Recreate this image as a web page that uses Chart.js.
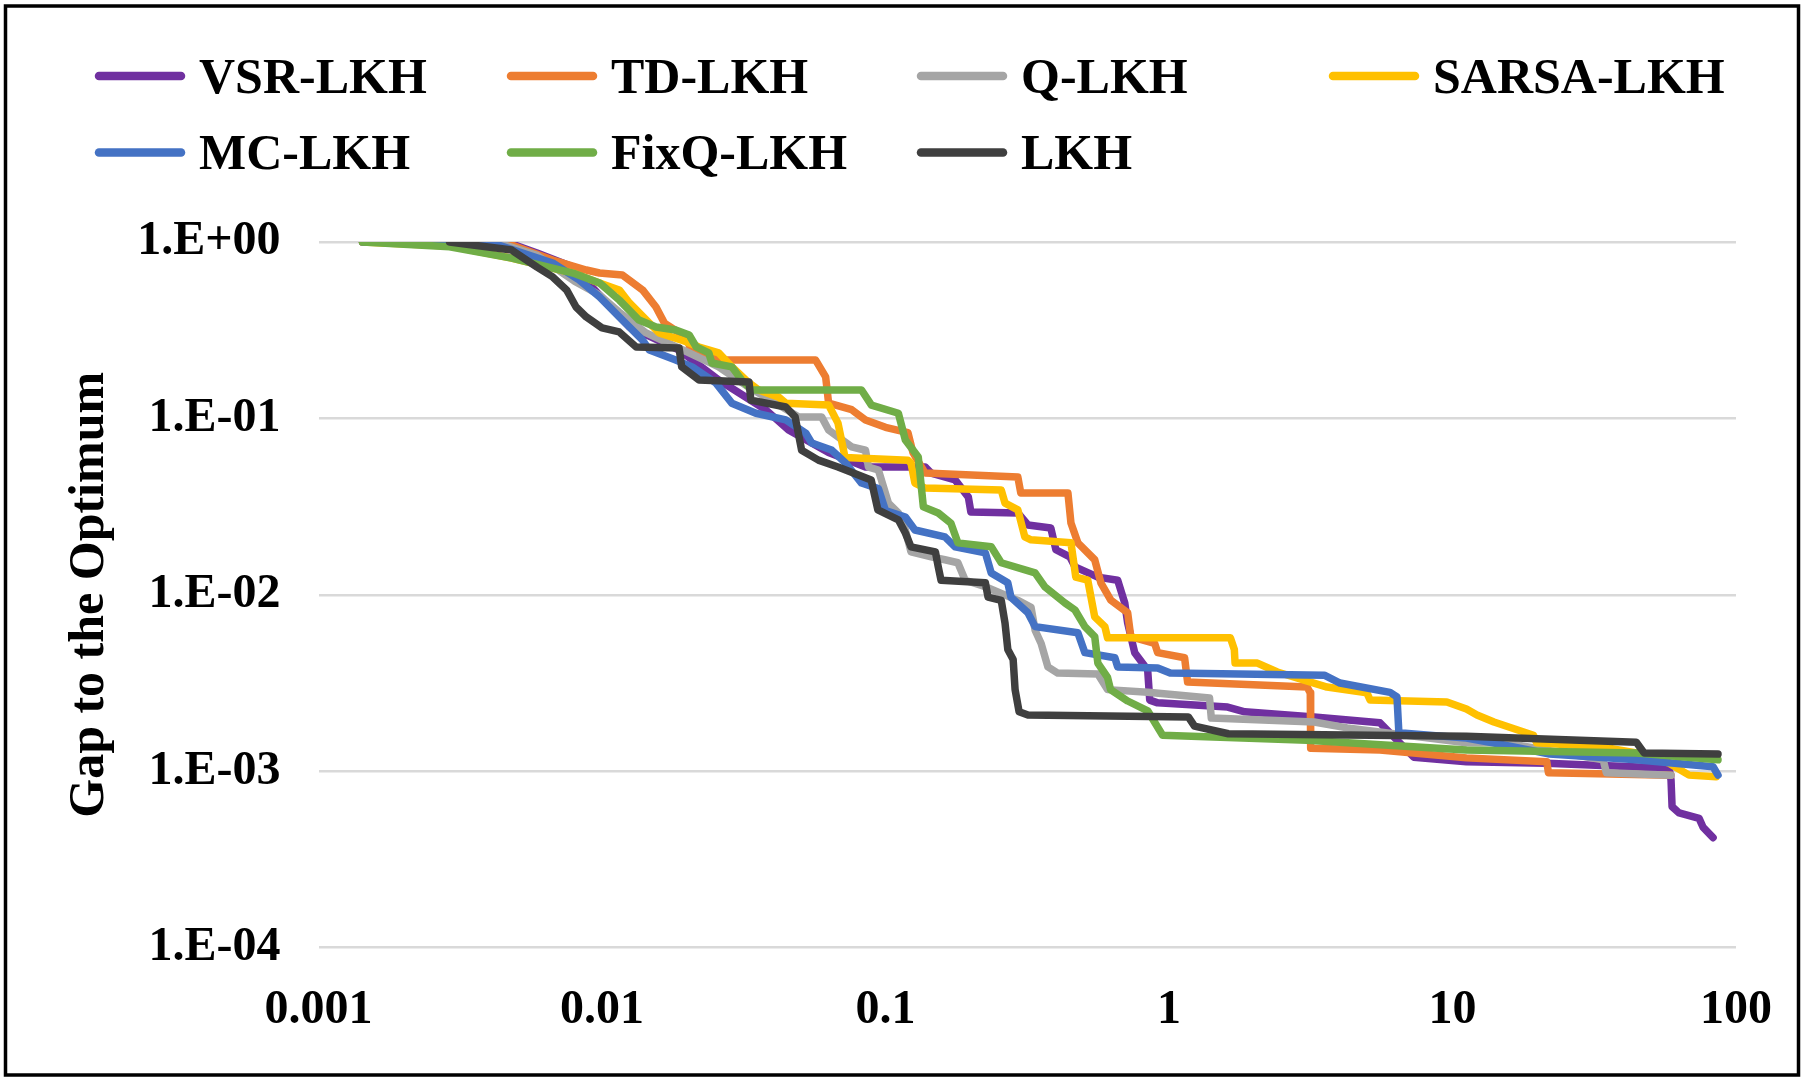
<!DOCTYPE html>
<html>
<head>
<meta charset="utf-8">
<script src="https://cdn.jsdelivr.net/npm/chart.js@4.4.1/dist/chart.umd.min.js"></script>
<style>
html,body{margin:0;padding:0;background:#fff;overflow:hidden}
#wrap{position:absolute;left:0;top:0;width:1806px;height:1079px}
</style>
</head>
<body>
<div id="wrap"><canvas id="c" width="1806" height="1079"></canvas></div>
<script>
// ---------- data (time in seconds, gap to optimum) ----------
const seriesNames = ['VSR-LKH', 'TD-LKH', 'Q-LKH', 'SARSA-LKH', 'MC-LKH', 'FixQ-LKH', 'LKH'];
const seriesColors = ['#7030A0', '#ED7D31', '#A5A5A5', '#FFC000', '#4472C4', '#70AD47', '#3F3F3F'];

const xTickValues = [0.001, 0.01, 0.1, 1, 10, 100];
const xTickLabels = ['0.001', '0.01', '0.1', '1', '10', '100'];
const yTickValues = [1, 0.1, 0.01, 0.001, 0.0001];
const yTickLabels = ['1.E+00', '1.E-01', '1.E-02', '1.E-03', '1.E-04'];

const vsrTime = [0.00143, 0.0046, 0.0059, 0.0079, 0.0098, 0.0125, 0.0187, 0.0258, 0.0378, 0.0455, 0.063, 0.085, 0.138, 0.145, 0.176, 0.196, 0.20, 0.293, 0.318, 0.383, 0.399, 0.447, 0.466, 0.561, 0.659, 0.698, 0.715, 0.757, 0.841, 0.855, 0.912, 1.61, 1.85, 3.25, 5.55, 7.3, 11.2, 21.5, 58.1, 59.0, 59.5, 63.0, 74.1, 76.6, 83.0];
const vsrGap  = [1, 1, 0.866, 0.722, 0.5, 0.33, 0.244, 0.165, 0.112, 0.086, 0.064, 0.053, 0.053, 0.049, 0.0448, 0.0358, 0.0295, 0.0291, 0.0249, 0.0239, 0.018, 0.0164, 0.0144, 0.0126, 0.0121, 0.009, 0.0069, 0.0047, 0.00375, 0.00253, 0.00244, 0.00231, 0.00217, 0.00203, 0.00188, 0.0012, 0.00113, 0.00111, 0.00104, 0.00089, 0.00063, 0.00058, 0.00054, 0.00048, 0.00042];

const tdTime = [0.00143, 0.0045, 0.0067, 0.0088, 0.0098, 0.0118, 0.0139, 0.0155, 0.0166, 0.0198, 0.0208, 0.0274, 0.0567, 0.0615, 0.063, 0.076, 0.085, 0.10, 0.12, 0.125, 0.138, 0.293, 0.30, 0.44, 0.451, 0.477, 0.547, 0.575, 0.624, 0.715, 0.733, 0.89, 0.912, 1.135, 1.163, 3.07, 3.15, 3.16, 5.55, 11.2, 21.5, 21.8, 59.0];
const tdGap  = [1, 1, 0.79, 0.694, 0.667, 0.65, 0.535, 0.428, 0.347, 0.289, 0.235, 0.214, 0.214, 0.172, 0.122, 0.112, 0.098, 0.089, 0.083, 0.064, 0.049, 0.0465, 0.0378, 0.0378, 0.0255, 0.0197, 0.0158, 0.0117, 0.0093, 0.0079, 0.0058, 0.0053, 0.0047, 0.0044, 0.0032, 0.0030, 0.00278, 0.00135, 0.00132, 0.00119, 0.00113, 0.00098, 0.00095];

const qTime = [0.00143, 0.0042, 0.0059, 0.008, 0.0098, 0.0115, 0.0143, 0.0187, 0.0258, 0.033, 0.0494, 0.0595, 0.063, 0.0759, 0.085, 0.0871, 0.0944, 0.1024, 0.111, 0.1175, 0.123, 0.145, 0.162, 0.18, 0.191, 0.225, 0.293, 0.326, 0.337, 0.354, 0.374, 0.405, 0.561, 0.607, 0.841, 1.39, 1.41, 3.25, 4.25, 11.2, 15.15, 34.0, 34.9, 59.0];
const qGap  = [1, 1, 0.84, 0.6, 0.5, 0.40, 0.305, 0.25, 0.196, 0.15, 0.102, 0.102, 0.086, 0.069, 0.066, 0.053, 0.051, 0.0331, 0.0291, 0.0233, 0.0175, 0.0164, 0.0158, 0.0152, 0.0121, 0.0111, 0.0093, 0.0085, 0.0063, 0.0053, 0.0039, 0.0036, 0.00356, 0.0029, 0.0028, 0.0026, 0.002, 0.0019, 0.00176, 0.00145, 0.00145, 0.00116, 0.00098, 0.00095];

const sarsaTime = [0.00143, 0.0029, 0.0048, 0.0079, 0.0098, 0.0115, 0.0125, 0.0147, 0.0159, 0.0191, 0.022, 0.0258, 0.0287, 0.033, 0.0357, 0.042, 0.0445, 0.063, 0.068, 0.072, 0.12, 0.123, 0.127, 0.138, 0.256, 0.264, 0.293, 0.31, 0.326, 0.451, 0.469, 0.517, 0.547, 0.594, 0.607, 1.647, 1.70, 1.71, 2.05, 2.41, 3.61, 4.99, 5.12, 9.55, 11.2, 12.2, 14.0, 19.3, 19.8, 34.0, 44.5, 58.1, 68.3, 85.1];
const sarsaGap  = [1, 0.95, 0.81, 0.667, 0.586, 0.535, 0.451, 0.347, 0.305, 0.278, 0.254, 0.235, 0.196, 0.159, 0.145, 0.132, 0.122, 0.119, 0.094, 0.060, 0.058, 0.0559, 0.043, 0.0403, 0.0393, 0.0331, 0.0303, 0.0213, 0.0205, 0.0197, 0.0126, 0.0121, 0.0075, 0.0066, 0.0057, 0.0057, 0.0049, 0.0041, 0.0041, 0.00365, 0.0030, 0.00278, 0.00253, 0.00247, 0.00225, 0.00208, 0.0019, 0.0016, 0.00145, 0.00137, 0.00127, 0.00111, 0.00095, 0.00093];

const mcTime = [0.00143, 0.004, 0.0067, 0.0083, 0.0098, 0.0115, 0.0139, 0.0147, 0.0182, 0.0208, 0.0252, 0.0287, 0.0349, 0.0445, 0.0523, 0.0549, 0.0645, 0.0723, 0.0823, 0.0944, 0.10, 0.1175, 0.127, 0.162, 0.176, 0.225, 0.236, 0.27, 0.277, 0.318, 0.337, 0.477, 0.505, 0.644, 0.659, 0.912, 1.01, 3.53, 4.01, 6.02, 6.37, 6.47, 11.2, 15.15, 22.0, 44.5, 83.0, 86.4];
const mcGap  = [1, 1, 0.76, 0.61, 0.488, 0.376, 0.278, 0.244, 0.214, 0.196, 0.159, 0.122, 0.107, 0.098, 0.0826, 0.0725, 0.0662, 0.0559, 0.043, 0.040, 0.030, 0.0276, 0.0233, 0.0213, 0.0187, 0.0173, 0.0133, 0.0117, 0.0097, 0.0079, 0.0066, 0.0061, 0.0047, 0.0044, 0.0039, 0.00385, 0.0036, 0.0035, 0.00316, 0.0028, 0.00264, 0.00165, 0.00154, 0.00141, 0.00125, 0.00116, 0.00106, 0.00095];

const fixqTime = [0.00143, 0.0029, 0.0048, 0.0079, 0.0098, 0.0115, 0.0135, 0.0155, 0.0182, 0.0203, 0.0215, 0.0238, 0.0244, 0.0287, 0.0311, 0.0337, 0.0823, 0.0892, 0.111, 0.1175, 0.1305, 0.136, 0.1535, 0.17, 0.18, 0.236, 0.256, 0.337, 0.365, 0.429, 0.466, 0.505, 0.547, 0.561, 0.607, 0.622, 0.715, 0.841, 0.949, 3.07, 11.2, 44.5, 86.4];
const fixqGap  = [1, 0.94, 0.81, 0.667, 0.586, 0.469, 0.361, 0.33, 0.317, 0.297, 0.254, 0.235, 0.206, 0.196, 0.165, 0.145, 0.145, 0.119, 0.107, 0.0754, 0.0604, 0.0315, 0.0291, 0.0255, 0.0197, 0.0187, 0.0152, 0.0133, 0.0111, 0.009, 0.0082, 0.0066, 0.0058, 0.0041, 0.0034, 0.0029, 0.0025, 0.0022, 0.0016, 0.0015, 0.00132, 0.00127, 0.00116];

const lkhTime = [0.0029, 0.0048, 0.0059, 0.0067, 0.0075, 0.0081, 0.0088, 0.010, 0.0115, 0.0132, 0.0187, 0.0191, 0.022, 0.033, 0.0335, 0.0445, 0.048, 0.0506, 0.058, 0.068, 0.089, 0.094, 0.111, 0.1175, 0.123, 0.150, 0.1535, 0.157, 0.225, 0.230, 0.256, 0.264, 0.27, 0.282, 0.2865, 0.296, 0.318, 1.17, 1.23, 1.62, 11.2, 44.5, 47.4, 86.4];
const lkhGap  = [1, 0.90, 0.72, 0.634, 0.535, 0.428, 0.376, 0.326, 0.309, 0.254, 0.251, 0.196, 0.165, 0.161, 0.127, 0.116, 0.102, 0.066, 0.058, 0.053, 0.0448, 0.0303, 0.0266, 0.0224, 0.0187, 0.0175, 0.0144, 0.0121, 0.0117, 0.0097, 0.0093, 0.0069, 0.0049, 0.0043, 0.0029, 0.00217, 0.00208, 0.00203, 0.0018, 0.00163, 0.00158, 0.00146, 0.00127, 0.00125];

const seriesTimes = [vsrTime, tdTime, qTime, sarsaTime, mcTime, fixqTime, lkhTime];
const seriesGaps  = [vsrGap, tdGap, qGap, sarsaGap, mcGap, fixqGap, lkhGap];

// ---------- chart ----------
const FONT = "'Liberation Serif','Times New Roman',serif";

const datasets = seriesNames.map((name, k) => ({
  label: name,
  data: seriesTimes[k].map((t, i) => ({ x: t, y: seriesGaps[k][i] })),
  borderColor: seriesColors[k],
  backgroundColor: seriesColors[k],
  borderWidth: 7.5,
  borderCapStyle: 'round',
  borderJoinStyle: 'round',
  pointRadius: 0,
  tension: 0,
  fill: false,
  order: seriesNames.length - k
}));

const framePlugin = {
  id: 'frameAndLegend',
  beforeDraw(chart) {
    const ctx = chart.ctx;
    ctx.save();
    ctx.fillStyle = '#ffffff';
    ctx.fillRect(0, 0, chart.width, chart.height);
    ctx.restore();
  },
  afterDraw(chart) {
    const ctx = chart.ctx;
    ctx.save();
    // outer frame
    ctx.strokeStyle = '#000000';
    ctx.lineWidth = 3.5;
    ctx.strokeRect(5.5, 6, 1793, 1069);
    // legend (Excel-like grid of 4 columns)
    const colX = [95, 507, 917, 1329];
    const rowLineY = [76, 152.5];
    const rowTextY = [93, 169];
    ctx.font = 'bold 50px ' + FONT;
    ctx.textAlign = 'left';
    ctx.textBaseline = 'alphabetic';
    chart.data.datasets.forEach((ds, i) => {
      const c = i % 4, r = Math.floor(i / 4);
      const x0 = colX[c];
      ctx.strokeStyle = ds.borderColor;
      ctx.lineWidth = 8.5;
      ctx.lineCap = 'round';
      ctx.beginPath();
      ctx.moveTo(x0 + 4, rowLineY[r]);
      ctx.lineTo(x0 + 86, rowLineY[r]);
      ctx.stroke();
      ctx.fillStyle = '#000000';
      ctx.fillText(ds.label, x0 + 104, rowTextY[r]);
    });
    ctx.restore();
  }
};

new Chart(document.getElementById('c').getContext('2d'), {
  type: 'line',
  data: { datasets },
  plugins: [framePlugin],
  options: {
    responsive: false,
    devicePixelRatio: 1,
    animation: false,
    layout: { padding: { left: 0, top: 242, right: 66, bottom: 0 } },
    plugins: { legend: { display: false }, tooltip: { enabled: false } },
    elements: { point: { radius: 0 }, line: { tension: 0 } },
    scales: {
      x: {
        type: 'logarithmic',
        min: 0.001,
        max: 100,
        afterBuildTicks: (s) => { s.ticks = xTickValues.map(v => ({ value: v })); },
        afterFit: (s) => { s.height = 131.4; },
        ticks: {
          callback: (v, i) => xTickLabels[i],
          font: { family: FONT, size: 48, weight: 'bold' },
          color: '#000000',
          padding: 34,
          maxRotation: 0,
          autoSkip: false
        },
        grid: { display: false, drawTicks: false },
        border: { display: false }
      },
      y: {
        type: 'logarithmic',
        min: 0.0001,
        max: 1,
        afterBuildTicks: (s) => { s.ticks = yTickValues.map(v => ({ value: v })); },
        afterFit: (s) => { s.width = 318.5; },
        ticks: {
          callback: (v, i, ticks) => {
            const k = yTickValues.indexOf(ticks[i].value);
            return k >= 0 ? yTickLabels[k] : '';
          },
          font: { family: FONT, size: 48, weight: 'bold' },
          color: '#000000',
          padding: 38,
          autoSkip: false
        },
        grid: { color: '#d9d9d9', lineWidth: 2.5, drawTicks: false },
        border: { display: false },
        title: {
          display: true,
          text: 'Gap to the Optimum',
          font: { family: FONT, size: 50, weight: 'bold' },
          color: '#000000',
          padding: { top: 60, bottom: 0 }
        }
      }
    }
  }
});
</script>
</body>
</html>
